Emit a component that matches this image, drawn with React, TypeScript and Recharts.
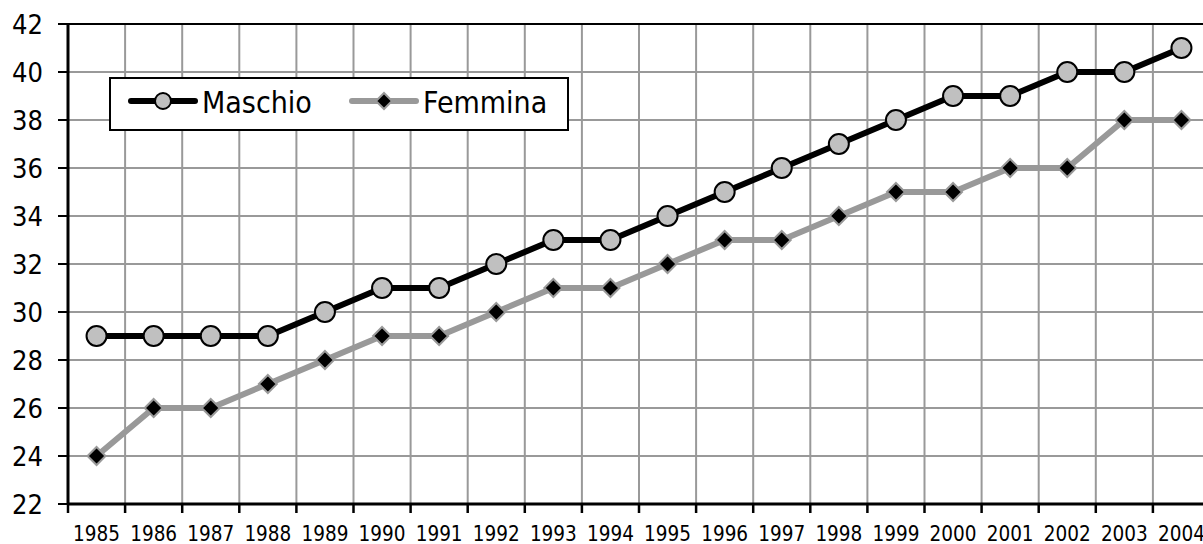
import React from "react";
import {
  LineChart,
  Line,
  XAxis,
  YAxis,
  CartesianGrid,
  Legend,
  ReferenceLine,
} from "recharts";

const FONT = "'DejaVu Sans Condensed', 'DejaVu Sans', sans-serif";

const years = [
  "1985", "1986", "1987", "1988", "1989", "1990", "1991", "1992", "1993", "1994",
  "1995", "1996", "1997", "1998", "1999", "2000", "2001", "2002", "2003", "2004",
];
const maschio = [29, 29, 29, 29, 30, 31, 31, 32, 33, 33, 34, 35, 36, 37, 38, 39, 39, 40, 40, 41];
const femmina = [24, 26, 26, 27, 28, 29, 29, 30, 31, 31, 32, 33, 33, 34, 35, 35, 36, 36, 38, 38];
const yTicks = [22, 24, 26, 28, 30, 32, 34, 36, 38, 40, 42];
const seriesNames = ["Maschio", "Femmina"];

// points sit in the middle of each year band, grid/ticks on the band edges
const data = years.map((year, i) => ({
  pos: i + 0.5,
  year,
  Maschio: maschio[i],
  Femmina: femmina[i],
}));
const xTicks: number[] = [];
for (let i = 0; i <= years.length * 2; i++) xTicks.push(i / 2);

function YearTick(props: any) {
  const { x, y, payload } = props;
  const v = payload.value as number;
  if (Number.isInteger(v)) {
    return <line x1={x} x2={x} y1={y} y2={y + 9} stroke="#000" strokeWidth={2.5} />;
  }
  return (
    <text x={x} y={y + 37} textAnchor="middle" fontSize={20.5} fontFamily={FONT} fill="#000">
      {years[Math.floor(v)]}
    </text>
  );
}

function CircleDot(props: any) {
  const { cx, cy, index } = props;
  return <circle key={"m" + index} cx={cx} cy={cy} r={10} fill="#c0c0c0" stroke="#000" strokeWidth={2} />;
}

function DiamondDot(props: any) {
  const { cx, cy, index } = props;
  const s = 9;
  return (
    <polygon
      key={"f" + index}
      points={`${cx},${cy - s} ${cx + s},${cy} ${cx},${cy + s} ${cx - s},${cy}`}
      fill="#000"
      stroke="#999"
      strokeWidth={2}
    />
  );
}

function LegendBox() {
  return (
    <svg width={460} height={54} style={{ display: "block" }}>
      <rect x={1} y={1} width={458} height={52} fill="#fff" stroke="#000" strokeWidth={2} />
      {seriesNames.map((name, i) => {
        const ox = i * 221;
        const isM = name === "Maschio";
        return (
          <g key={name}>
            <line x1={ox + 22} x2={ox + 86} y1={24} y2={24} stroke={isM ? "#000" : "#999"} strokeWidth={6} strokeLinecap="round" />
            {isM ? (
              <circle cx={ox + 54} cy={24} r={8} fill="#c0c0c0" stroke="#000" strokeWidth={2} />
            ) : (
              <polygon points={`${ox + 54},16 ${ox + 62},24 ${ox + 54},32 ${ox + 46},24`} fill="#000" stroke="#999" strokeWidth={2} />
            )}
            <text x={ox + 93} y={36} fontSize={30} fontFamily={FONT} fill="#000">
              {name}
            </text>
          </g>
        );
      })}
    </svg>
  );
}

export default function App() {
  return (
    <div style={{ position: "absolute", left: 0, top: 0, width: 1203, height: 544, overflow: "hidden", background: "#fff" }}>
      <LineChart width={1215} height={544} data={data} margin={{ top: 24, right: 5, left: 0, bottom: 0 }}>
        <CartesianGrid
          stroke="#999"
          strokeWidth={2}
          verticalCoordinatesGenerator={({ offset }: any) =>
            years.map((_, i) => offset.left + (i * offset.width) / years.length)
          }
        />
        <ReferenceLine y={42} stroke="#000" strokeWidth={2} />
        <XAxis
          dataKey="pos"
          type="number"
          domain={[0, years.length]}
          ticks={xTicks}
          interval={0}
          tickLine={false}
          tickSize={0}
          tickMargin={0}
          tick={<YearTick />}
          axisLine={{ stroke: "#000", strokeWidth: 3 }}
          height={40}
        />
        <YAxis
          domain={[22, 42]}
          ticks={yTicks}
          interval={0}
          width={68}
          tickSize={10}
          tickMargin={15}
          tickLine={{ stroke: "#000", strokeWidth: 2 }}
          axisLine={{ stroke: "#000", strokeWidth: 3 }}
          tick={{ fill: "#000", fontSize: 27, fontFamily: FONT }}
        />
        <Legend
          layout="vertical"
          align="center"
          verticalAlign="middle"
          content={<LegendBox />}
          wrapperStyle={{ left: 109, top: 77, width: 460, height: 54 }}
        />
        <Line
          dataKey="Maschio"
          stroke="#000"
          strokeWidth={6}
          dot={<CircleDot />}
          activeDot={false}
          isAnimationActive={false}
        />
        <Line
          dataKey="Femmina"
          stroke="#999"
          strokeWidth={6}
          dot={<DiamondDot />}
          activeDot={false}
          isAnimationActive={false}
        />
      </LineChart>
    </div>
  );
}
